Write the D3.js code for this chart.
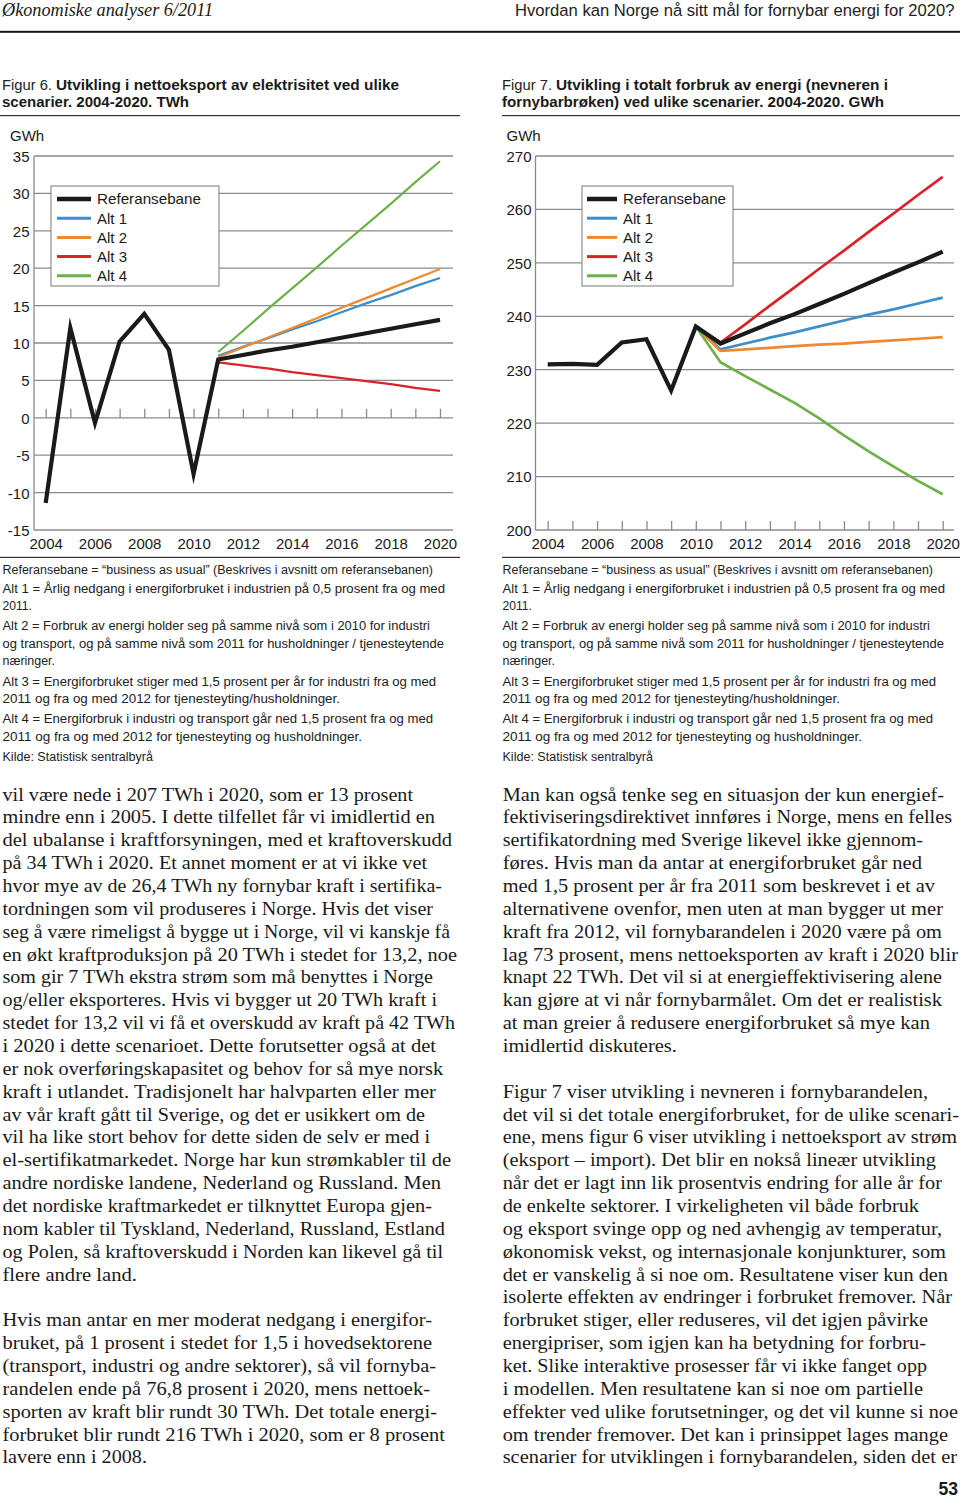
<!DOCTYPE html>
<html><head><meta charset="utf-8">
<script src="https://cdn.jsdelivr.net/npm/d3@7"></script>
<style>html,body{margin:0;padding:0;background:#fff}</style>
</head><body><svg id="page" width="960" height="1499"></svg>
<script>
// ---------- DATA ----------
const years = [2004,2005,2006,2007,2008,2009,2010,2011,2012,2013,2014,2015,2016,2017,2018,2019,2020];
const seriesNames = ["Referansebane","Alt 1","Alt 2","Alt 3","Alt 4"];
const seriesColors = ["#1a1a1a","#3d8fc9","#ee8a2d","#d8232b","#6cb14a"];

// Figur 6: nettoeksport (TWh), 2004-2020
const fig6Ref  = [-11.4, 12.0, -0.7, 10.2, 13.9, 9.1, -7.5, 7.8, 8.4, 9.0, 9.5, 10.1, 10.7, 11.3, 11.9, 12.5, 13.1];
// Alternatives, 2011-2020
const fig6Years = [2011,2012,2013,2014,2015,2016,2017,2018,2019,2020];
const fig6Alt1 = [8.3, 9.5, 10.6, 11.8, 12.9, 14.1, 15.3, 16.4, 17.6, 18.7];
const fig6Alt2 = [8.1, 9.4, 10.7, 12.0, 13.3, 14.7, 16.0, 17.3, 18.6, 19.9];
const fig6Alt3 = [7.4, 7.0, 6.6, 6.1, 5.7, 5.3, 4.9, 4.5, 4.0, 3.6];
const fig6Alt4 = [8.8, 11.6, 14.5, 17.3, 20.1, 23.0, 25.8, 28.6, 31.5, 34.3];
const fig6Ticks = [35,30,25,20,15,10,5,0,-5,-10,-15];

// Figur 7: totalt forbruk (GWh), 2004-2020
const fig7Ref  = [231.0, 231.1, 230.9, 235.1, 235.7, 226.1, 238.1, 234.9, 236.8, 238.7, 240.4, 242.3, 244.2, 246.2, 248.2, 250.1, 252.1];
// Alternatives, 2010-2020
const fig7Years = [2010,2011,2012,2013,2014,2015,2016,2017,2018,2019,2020];
const fig7Alt1 = [238.1, 233.8, 234.9, 236.0, 237.0, 238.1, 239.2, 240.3, 241.3, 242.4, 243.5];
const fig7Alt2 = [238.1, 233.5, 233.8, 234.1, 234.4, 234.7, 234.9, 235.2, 235.5, 235.8, 236.1];
const fig7Alt3 = [238.1, 235.1, 238.5, 242.0, 245.4, 248.9, 252.3, 255.8, 259.2, 262.7, 266.1];
const fig7Alt4 = [238.1, 231.4, 228.8, 226.3, 223.8, 220.9, 217.7, 214.7, 211.9, 209.2, 206.7];
const fig7Ticks = [270,260,250,240,230,220,210,200];
const xLabelYears = [2004,2006,2008,2010,2012,2014,2016,2018,2020];

// ---------- TEXTS ----------
const headerLeft = "Økonomiske analyser 6/2011";
const headerRight = "Hvordan kan Norge nå sitt mål for fornybar energi for 2020?";
const fig6Title = ["Figur 6.", "Utvikling i nettoeksport av elektrisitet ved ulike", "scenarier. 2004-2020. TWh"];
const fig7Title = ["Figur 7.", "Utvikling i totalt forbruk av energi (nevneren i", "fornybarbrøken) ved ulike scenarier. 2004-2020. GWh"];
const notes = [
 "Referansebane = \u201Cbusiness as usual\u201D (Beskrives i avsnitt om referansebanen)",
 "Alt 1 = Årlig nedgang i energiforbruket i industrien på 0,5 prosent fra og med",
 "2011.",
 "Alt 2 = Forbruk av energi holder seg på samme nivå som i 2010 for industri",
 "og transport, og på samme nivå som 2011 for husholdninger / tjenesteytende",
 "næringer.",
 "Alt 3 = Energiforbruket stiger med 1,5 prosent per år for industri fra og med",
 "2011 og fra og med 2012 for tjenesteyting/husholdninger.",
 "Alt 4 = Energiforbruk i industri og transport går ned 1,5 prosent fra og med",
 "2011 og fra og med 2012 for tjenesteyting og husholdninger.",
 "Kilde: Statistisk sentralbyrå"
];
const bodyLeft = [
 "vil være nede i 207 TWh i 2020, som er 13 prosent",
 "mindre enn i 2005. I dette tilfellet får vi imidlertid en",
 "del ubalanse i kraftforsyningen, med et kraftoverskudd",
 "på 34 TWh i 2020. Et annet moment er at vi ikke vet",
 "hvor mye av de 26,4 TWh ny fornybar kraft i sertifika-",
 "tordningen som vil produseres i Norge. Hvis det viser",
 "seg å være rimeligst å bygge ut i Norge, vil vi kanskje få",
 "en økt kraftproduksjon på 20 TWh i stedet for 13,2, noe",
 "som gir 7 TWh ekstra strøm som må benyttes i Norge",
 "og/eller eksporteres. Hvis vi bygger ut 20 TWh kraft i",
 "stedet for 13,2 vil vi få et overskudd av kraft på 42 TWh",
 "i 2020 i dette scenarioet. Dette forutsetter også at det",
 "er nok overføringskapasitet og behov for så mye norsk",
 "kraft i utlandet. Tradisjonelt har halvparten eller mer",
 "av vår kraft gått til Sverige, og det er usikkert om de",
 "vil ha like stort behov for dette siden de selv er med i",
 "el-sertifikatmarkedet. Norge har kun strømkabler til de",
 "andre nordiske landene, Nederland og Russland. Men",
 "det nordiske kraftmarkedet er tilknyttet Europa gjen-",
 "nom kabler til Tyskland, Nederland, Russland, Estland",
 "og Polen, så kraftoverskudd i Norden kan likevel gå til",
 "flere andre land.",
 "",
 "Hvis man antar en mer moderat nedgang i energifor-",
 "bruket, på 1 prosent i stedet for 1,5 i hovedsektorene",
 "(transport, industri og andre sektorer), så vil fornyba-",
 "randelen ende på 76,8 prosent i 2020, mens nettoek-",
 "sporten av kraft blir rundt 30 TWh. Det totale energi-",
 "forbruket blir rundt 216 TWh i 2020, som er 8 prosent",
 "lavere enn i 2008."
];
const bodyRight = [
 "Man kan også tenke seg en situasjon der kun energief-",
 "fektiviseringsdirektivet innføres i Norge, mens en felles",
 "sertifikatordning med Sverige likevel ikke gjennom-",
 "føres. Hvis man da antar at energiforbruket går ned",
 "med 1,5 prosent per år fra 2011 som beskrevet i et av",
 "alternativene ovenfor, men uten at man bygger ut mer",
 "kraft fra 2012, vil fornybarandelen i 2020 være på om",
 "lag 73 prosent, mens nettoeksporten av kraft i 2020 blir",
 "knapt 22 TWh. Det vil si at energieffektivisering alene",
 "kan gjøre at vi når fornybarmålet. Om det er realistisk",
 "at man greier å redusere energiforbruket så mye kan",
 "imidlertid diskuteres.",
 "",
 "Figur 7 viser utvikling i nevneren i fornybarandelen,",
 "det vil si det totale energiforbruket, for de ulike scenari-",
 "ene, mens figur 6 viser utvikling i nettoeksport av strøm",
 "(eksport \u2013 import). Det blir en nokså lineær utvikling",
 "når det er lagt inn lik prosentvis endring for alle år for",
 "de enkelte sektorer. I virkeligheten vil både forbruk",
 "og eksport svinge opp og ned avhengig av temperatur,",
 "økonomisk vekst, og internasjonale konjunkturer, som",
 "det er vanskelig å si noe om. Resultatene viser kun den",
 "isolerte effekten av endringer i forbruket fremover. Når",
 "forbruket stiger, eller reduseres, vil det igjen påvirke",
 "energipriser, som igjen kan ha betydning for forbru-",
 "ket. Slike interaktive prosesser får vi ikke fanget opp",
 "i modellen. Men resultatene kan si noe om partielle",
 "effekter ved ulike forutsetninger, og det vil kunne si noe",
 "om trender fremover. Det kan i prinsippet lages mange",
 "scenarier for utviklingen i fornybarandelen, siden det er"
];

// ---------- LAYOUT (line end positions measured from the page) ----------
const bodyLeftEnds = [413,435,452,427,442,433,450,457,433,437,455,436,443,436,425,430,451,441,432,445,443,137,0,432,432,436,430,437,445,147];
const bodyRightEnds = [944,952,923,922,935,943,942,958,942,942,930,677,0,928,959,957,936,942,919,942,946,948,952,928,926,927,923,958,948,957];
const noteEnds = [433,445,32,430,444,55,436,340,433,362,153];
const noteBaselines = [573.5,592.7,609.5,630,647.5,664.5,686,703.3,723.3,740.8,760.5];

const SANS = "'Liberation Sans', Arial, Helvetica, sans-serif";
const SERIF = "'Liberation Serif', 'Times New Roman', serif";
const svg = d3.select("#page");
svg.append("rect").attr("width",960).attr("height",1499).attr("fill","#fff");

function txt(g, x, y, s, o) {
  o = o || {};
  const t = g.append("text").attr("x", x).attr("y", y).text(s)
    .attr("font-family", o.family || SANS)
    .attr("font-size", o.size || 12)
    .attr("fill", o.fill || "#1a1a1a");
  if (o.weight) t.attr("font-weight", o.weight);
  if (o.style) t.attr("font-style", o.style);
  if (o.anchor) t.attr("text-anchor", o.anchor);
  if (o.len) t.attr("textLength", o.len).attr("lengthAdjust", "spacingAndGlyphs");
  return t;
}

// header
txt(svg, 2, 16, headerLeft, {family: SERIF, style: "italic", size: 18, len: 211});
// right header: condensed face imitated with a horizontal scale
{
  const hg = svg.append("g");
  const t = txt(hg, 0, 0, headerRight, {size: 17, fill: "#222"});
  const w = t.node().getComputedTextLength();
  const k = 440 / w;
  hg.attr("transform", `translate(515,16) scale(${k},1)`);
}
svg.append("rect").attr("x",0).attr("y",30.8).attr("width",960).attr("height",2).attr("fill","#1a1a1a");

// figure titles
function title(x0, parts, end1, end2) {
  txt(svg, x0, 90, parts[0], {size: 14.5, len: 50, fill:"#222"});
  txt(svg, x0 + 54, 90, parts[1], {size: 14.5, weight: "bold", len: end1 - x0 - 54});
  txt(svg, x0, 107, parts[2], {size: 14.5, weight: "bold", len: end2 - x0});
}
title(2, fig6Title, 399, 189);
title(502, fig7Title, 888, 884);
svg.append("rect").attr("x",0).attr("y",115).attr("width",460).attr("height",1.2).attr("fill","#333");
svg.append("rect").attr("x",502).attr("y",115).attr("width",458).attr("height",1.2).attr("fill","#333");
svg.append("rect").attr("x",0).attr("y",556.8).attr("width",460).attr("height",1.2).attr("fill","#333");
svg.append("rect").attr("x",502).attr("y",556.8).attr("width",458).attr("height",1.2).attr("fill","#333");

// ---------- CHARTS ----------
const GRID = "#8a8a8a";
function chart(cfg) {
  const g = svg.append("g");
  const x = d3.scaleLinear().domain([2004, 2020]).range([cfg.x0, cfg.x1]);
  const y = d3.scaleLinear().domain(cfg.domain).range([530, 156]);
  // gridlines
  g.append("g").selectAll("line").data(cfg.ticks).join("line")
    .attr("x1", cfg.left).attr("x2", cfg.right)
    .attr("y1", d => y(d)).attr("y2", d => y(d))
    .attr("stroke", GRID).attr("stroke-width", 1.3);
  g.append("line").attr("x1", cfg.left).attr("x2", cfg.left).attr("y1", 156).attr("y2", 530)
    .attr("stroke", GRID).attr("stroke-width", 1.3);
  // year ticks
  const tickAxis = g.append("g").attr("transform", `translate(0,${y(cfg.tickAt)})`)
    .call(d3.axisTop(x).tickValues(years).tickSize(9).tickFormat(""));
  tickAxis.select(".domain").remove();
  tickAxis.selectAll("line").attr("stroke", GRID).attr("stroke-width", 1.3);
  // y labels (plain hyphen minus as in the original)
  const ya = g.append("g").attr("transform", `translate(${cfg.labelX},0)`)
    .call(d3.axisLeft(y).tickValues(cfg.ticks).tickSize(0).tickPadding(0).tickFormat(d => String(d)));
  ya.select(".domain").remove();
  ya.selectAll("text").attr("font-family", SANS).attr("font-size", 15).attr("fill", "#1a1a1a").attr("dy", "0.36em");
  // x labels
  const xa = g.append("g").attr("transform", `translate(0,530)`)
    .call(d3.axisBottom(x).tickValues(xLabelYears).tickSize(0).tickPadding(8.5).tickFormat(d => String(d)));
  xa.select(".domain").remove();
  xa.selectAll("text").attr("font-family", SANS).attr("font-size", 15).attr("fill", "#1a1a1a");
  // unit
  txt(g, cfg.unitX, 140.5, "GWh", {size: 15});
  // lines
  const line = d3.line().x(d => x(d[0])).y(d => y(d[1]));
  cfg.alts.forEach((vals, i) => {
    g.append("path").datum(cfg.altYears.map((yr, j) => [yr, vals[j]]))
      .attr("d", line).attr("fill", "none").attr("stroke", seriesColors[i + 1])
      .attr("stroke-width", cfg.altWidth).attr("stroke-linejoin", "round");
  });
  g.append("path").datum(years.map((yr, j) => [yr, cfg.ref[j]]))
    .attr("d", line).attr("fill", "none").attr("stroke", seriesColors[0])
    .attr("stroke-width", 4.2).attr("stroke-linejoin", "miter").attr("stroke-miterlimit", 10);
  // legend
  const lg = g.append("g");
  lg.append("rect").attr("x", cfg.legX).attr("y", 186).attr("width", cfg.legW).attr("height", 100)
    .attr("fill", "#fff").attr("stroke", "#7a7a7a").attr("stroke-width", 1);
  seriesNames.forEach((n, i) => {
    const yy = 199 + i * 19.2;
    lg.append("line").attr("x1", cfg.legX + cfg.sw0).attr("x2", cfg.legX + cfg.sw0 + cfg.swLen).attr("y1", yy).attr("y2", yy)
      .attr("stroke", seriesColors[i]).attr("stroke-width", i === 0 ? 4.5 : 3);
    const t = txt(lg, cfg.legX + cfg.tx, yy + 5.4, n, {size: 15});
    if (i === 0) t.attr("textLength", cfg.refLen).attr("lengthAdjust", "spacingAndGlyphs");
  });
}

chart({domain: [-15, 35], ticks: fig6Ticks, x0: 45.7, x1: 440, left: 34, right: 453, tickAt: 0,
  labelX: 29.5, unitX: 10, ref: fig6Ref, altYears: fig6Years, alts: [fig6Alt1, fig6Alt2, fig6Alt3, fig6Alt4],
  altWidth: 2.2, legX: 51, legW: 168, refLen: 104, sw0: 6, swLen: 34, tx: 46});
chart({domain: [200, 270], ticks: fig7Ticks, x0: 547.7, x1: 942.7, left: 535.5, right: 954, tickAt: 200,
  labelX: 531.5, unitX: 506.5, ref: fig7Ref, altYears: fig7Years, alts: [fig7Alt1, fig7Alt2, fig7Alt3, fig7Alt4],
  altWidth: 2.7, legX: 582, legW: 151, refLen: 103, sw0: 5, swLen: 30, tx: 41});

// ---------- NOTES ----------
[2.5, 502.5].forEach(x0 => {
  notes.forEach((s, i) => {
    txt(svg, x0, noteBaselines[i], s, {size: 12.3, len: noteEnds[i] - 2.5, fill: "#222"});
  });
});

// ---------- BODY ----------
function body(lines, ends, x0) {
  lines.forEach((s, i) => {
    if (!s) return;
    txt(svg, x0, 800.5 + i * 22.86, s, {family: SERIF, size: 18, len: ends[i] - x0, fill: "#1a1a1a"});
  });
}
body(bodyLeft, bodyLeftEnds, 2.5);
body(bodyRight, bodyRightEnds, 502.7);

txt(svg, 958, 1495, "53", {size: 17.5, weight: "bold", anchor: "end"});
</script></body></html>
